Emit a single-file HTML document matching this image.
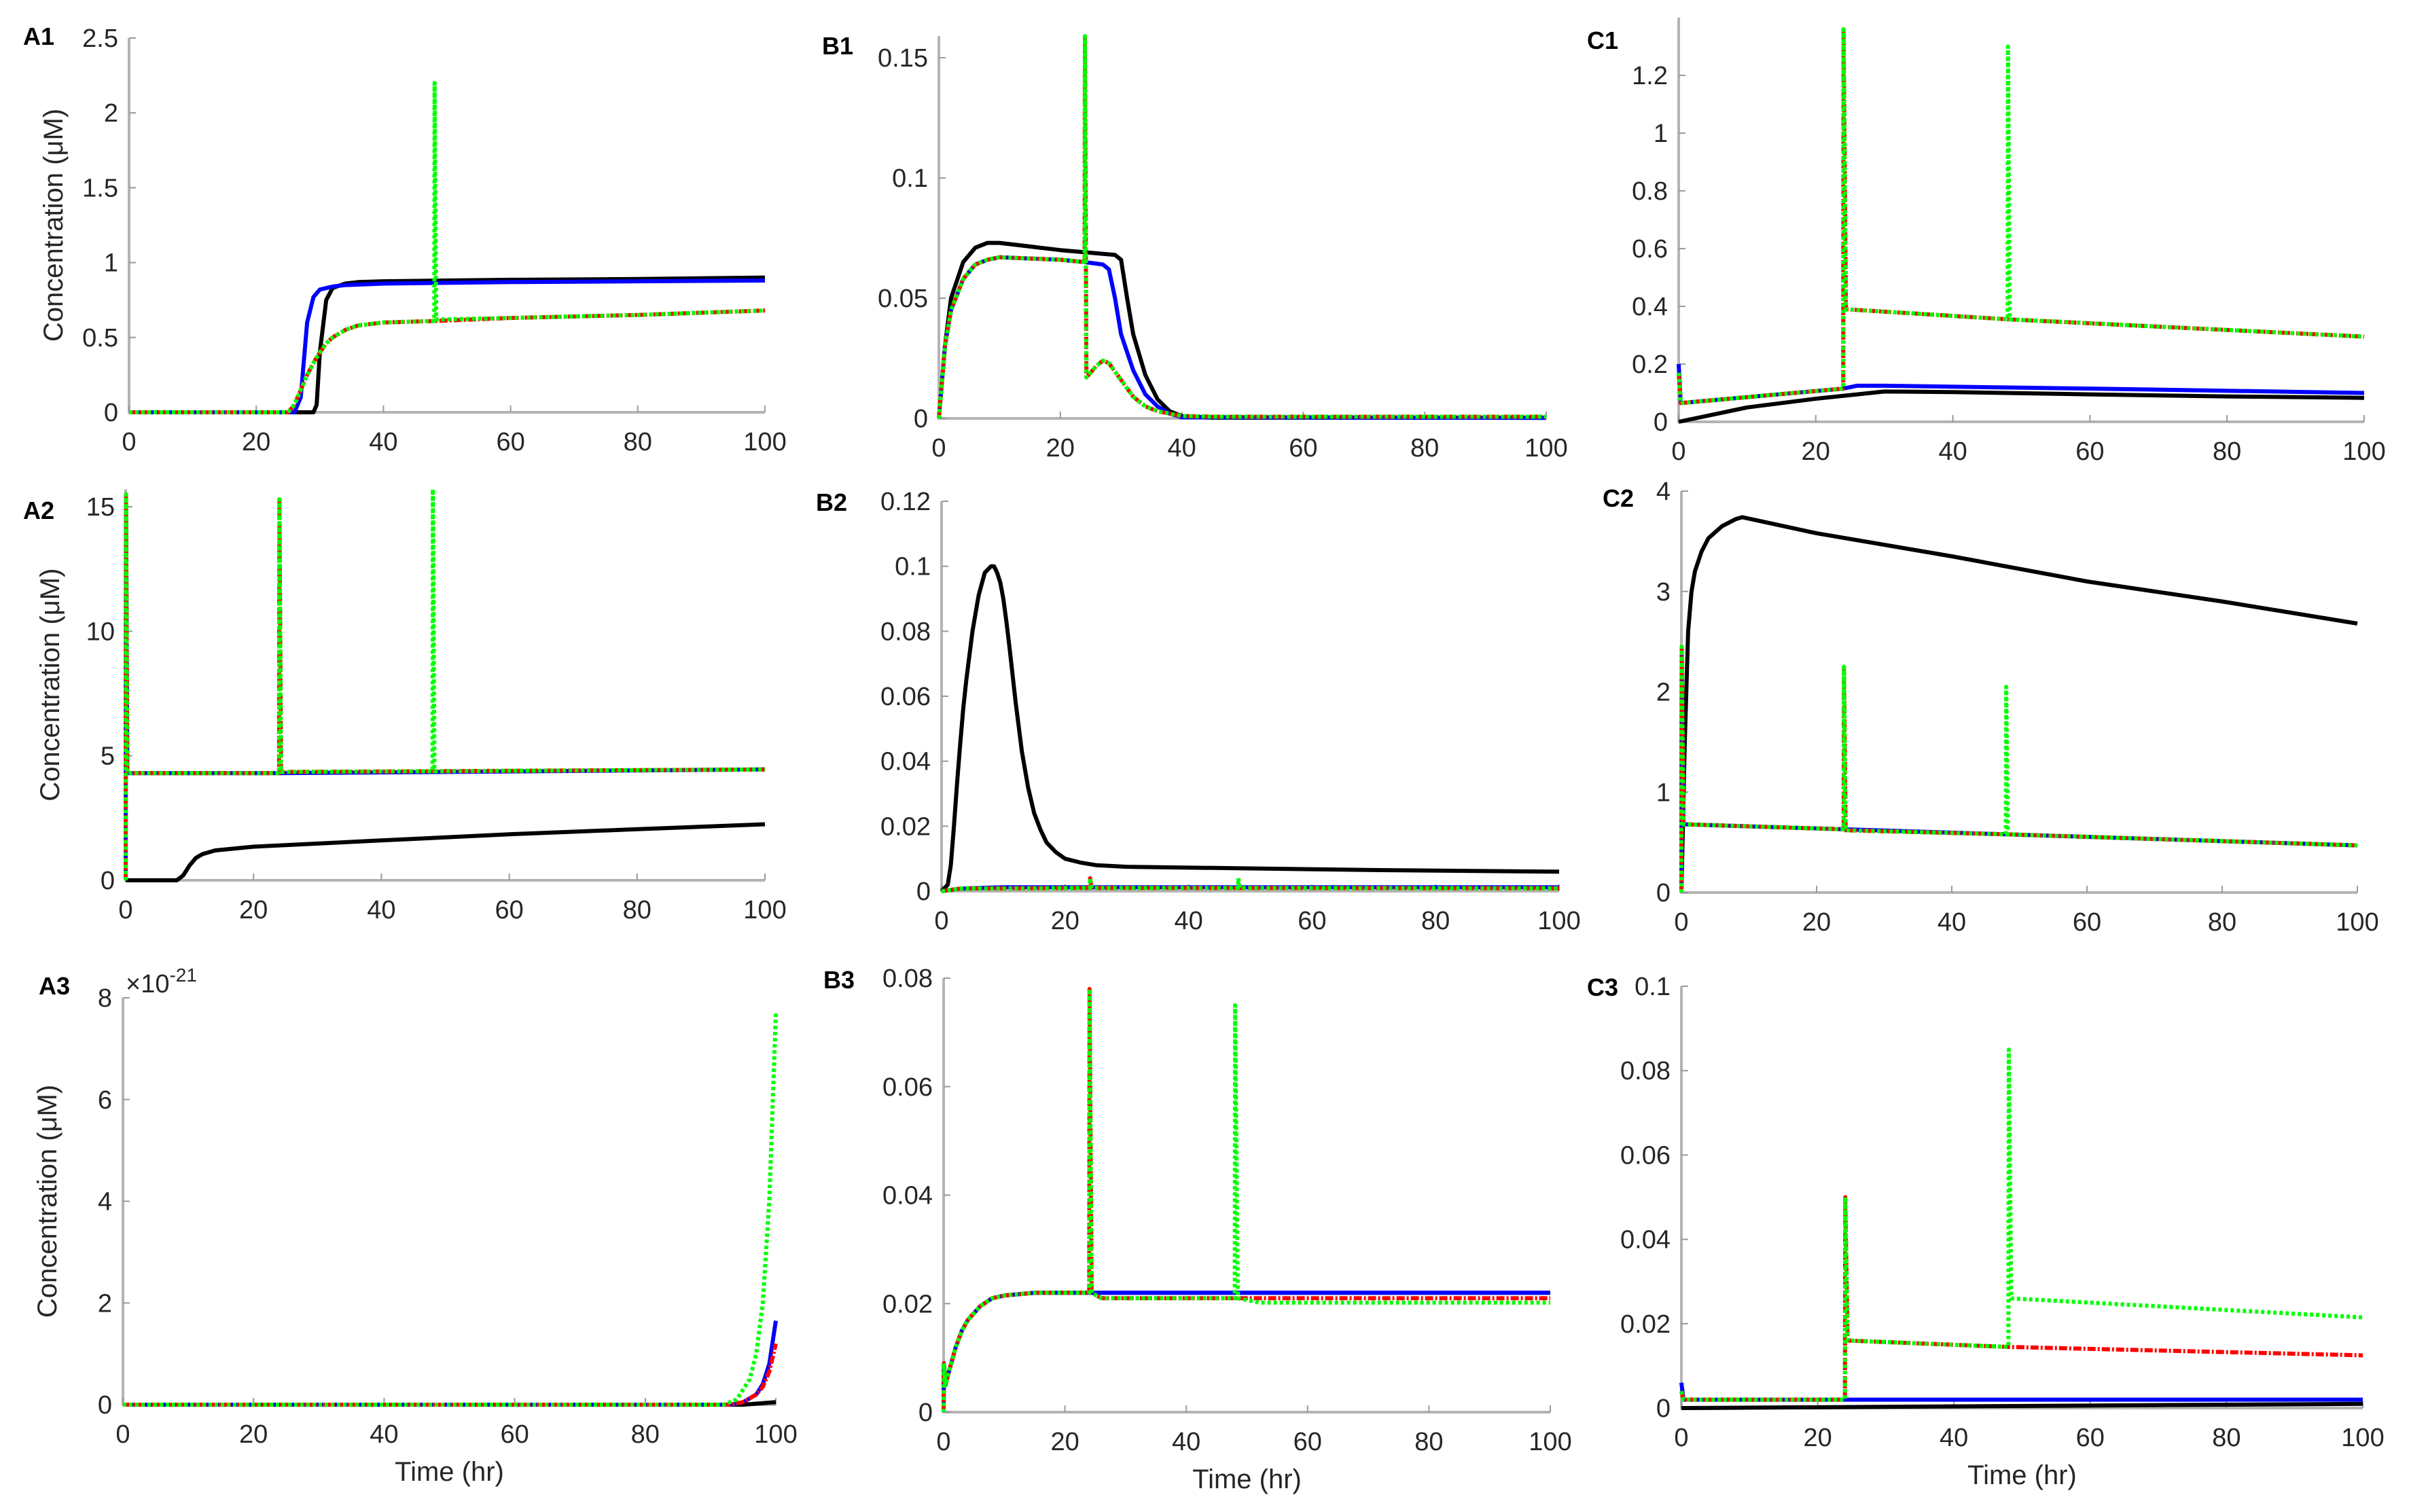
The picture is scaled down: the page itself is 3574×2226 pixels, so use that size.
<!DOCTYPE html>
<html><head><meta charset="utf-8"><style>
html,body{margin:0;padding:0;background:#fff;}
svg{display:block;font-family:"Liberation Sans",sans-serif;}
</style></head><body>
<svg id="fig" width="3574" height="2226" viewBox="0 0 3574 2226" xmlns="http://www.w3.org/2000/svg"></svg>
<script>
// ---------- DATA (time hr, concentration) ----------
const a1Black=[[0,0],[29,0],[29.5,0.05],[30,0.4],[31,0.75],[32,0.83],[34,0.86],[36,0.87],[40,0.875],[60,0.885],[80,0.89],[100,0.9]];
const a1Blue=[[0,0],[26,0],[27,0.1],[28,0.6],[29,0.77],[30,0.82],[32,0.84],[34,0.85],[40,0.86],[60,0.87],[100,0.88]];
const a1Red=[[0,0],[25,0],[26,0.05],[27,0.15],[28,0.25],[29,0.33],[30,0.4],[31,0.46],[32,0.5],[34,0.55],[36,0.58],[40,0.6],[48,0.61],[60,0.63],[80,0.65],[100,0.68]];
const a1Green=[[0,0],[25,0],[26,0.05],[27,0.15],[28,0.25],[29,0.33],[30,0.4],[31,0.46],[32,0.5],[34,0.55],[36,0.58],[40,0.6],[48,0.61],[48.05,2.2],[48.3,0.62],[60,0.63],[80,0.65],[100,0.68]];

const b1Black=[[0,0],[1,0.03],[2,0.05],[4,0.065],[6,0.071],[8,0.073],[10,0.073],[20,0.07],[29,0.068],[30,0.066],[31,0.05],[32,0.035],[34,0.018],[36,0.008],[38,0.003],[40,0.001],[45,0.0003],[100,0.0003]];
const b1Blue=[[0,0],[1,0.03],[2,0.045],[4,0.058],[6,0.064],[8,0.066],[10,0.067],[20,0.066],[24,0.065],[27,0.064],[28,0.062],[29,0.05],[30,0.035],[32,0.02],[34,0.01],[36,0.005],[38,0.002],[40,0.0005],[100,0.0002]];
const b1Red=[[0,0],[1,0.03],[2,0.045],[4,0.058],[6,0.064],[8,0.066],[10,0.067],[20,0.066],[24,0.065],[24.05,0.159],[24.3,0.017],[26,0.022],[27,0.024],[28,0.023],[30,0.016],[32,0.009],[34,0.005],[36,0.003],[40,0.001],[45,0.0007],[100,0.0007]];
const b1Green=[[0,0],[1,0.03],[2,0.045],[4,0.058],[6,0.064],[8,0.066],[10,0.067],[20,0.066],[24,0.065],[24.05,0.159],[24.3,0.017],[26,0.022],[27,0.024],[28,0.023],[30,0.016],[32,0.009],[34,0.005],[36,0.003],[40,0.001],[45,0.0007],[100,0.0007]];

const c1Black=[[0,0],[10,0.05],[20,0.08],[30,0.105],[40,0.103],[60,0.095],[80,0.088],[100,0.083]];
const c1Blue=[[0,0.2],[0.3,0.065],[24,0.115],[26,0.125],[30,0.125],[60,0.115],[100,0.1]];
const c1Red=[[0,0.17],[0.3,0.065],[24,0.115],[24.05,1.36],[24.4,0.39],[48,0.355],[100,0.295]];
const c1Green=[[0,0.17],[0.3,0.065],[24,0.115],[24.05,1.36],[24.4,0.39],[48,0.355],[48.05,1.3],[48.3,0.355],[100,0.295]];

const a2Black=[[0,0],[8,0],[9,0.2],[10,0.6],[11,0.9],[12,1.05],[14,1.2],[20,1.35],[40,1.6],[60,1.85],[80,2.05],[100,2.25]];
const a2Blue=[[0,0],[0.05,15.5],[0.25,4.3],[24,4.3],[100,4.45]];
const a2Red=[[0,0],[0.05,15.5],[0.25,4.3],[24,4.3],[24.05,15.3],[24.3,4.35],[100,4.45]];
const a2Green=[[0,0],[0.05,15.5],[0.25,4.3],[24,4.3],[24.05,15.3],[24.3,4.35],[48,4.38],[48.05,15.7],[48.3,4.38],[100,4.45]];

const b2Black=[[0,0],[1,0.002],[1.5,0.008],[2,0.02],[2.5,0.033],[3,0.045],[3.5,0.056],[4,0.065],[5,0.08],[6,0.091],[7,0.098],[8,0.1],[8.5,0.1],[9,0.098],[9.5,0.095],[10,0.09],[10.5,0.083],[11,0.075],[12,0.058],[13,0.043],[14,0.032],[15,0.024],[16,0.019],[17,0.015],[18.5,0.012],[20,0.01],[22.5,0.0088],[25,0.008],[30,0.0075],[50,0.007],[70,0.0065],[100,0.006]];
const b2Blue=[[0,0],[3,0.0008],[10,0.0012],[100,0.0012]];
const b2Red=[[0,0],[3,0.0008],[24,0.001],[24.05,0.004],[24.3,0.001],[100,0.0009]];
const b2Green=[[0,0],[3,0.0008],[24,0.001],[24.05,0.004],[24.3,0.001],[48,0.001],[48.05,0.004],[48.3,0.001],[100,0.0009]];

const c2Black=[[0,0],[0.5,1.5],[1,2.6],[1.5,3.0],[2,3.2],[3,3.4],[4,3.53],[6,3.65],[8,3.72],[9,3.74],[20,3.58],[40,3.35],[60,3.1],[80,2.9],[100,2.68]];
const c2Blue=[[0,0],[0.05,2.4],[0.3,0.68],[24,0.63],[48,0.58],[100,0.47]];
const c2Red=[[0,0],[0.05,2.45],[0.3,0.68],[24,0.63],[24.05,2.25],[24.3,0.62],[48,0.58],[100,0.47]];
const c2Green=[[0,0],[0.05,2.45],[0.3,0.68],[24,0.63],[24.05,2.25],[24.3,0.62],[48,0.58],[48.05,2.05],[48.3,0.58],[100,0.47]];

const a3Black=[[0,0],[95,0],[100,0.05]];
const a3Blue=[[0,0],[93,0],[95,0.05],[97,0.2],[98,0.4],[99,0.8],[100,1.65]];
const a3Red=[[0,0],[93,0],[95,0.05],[97,0.2],[98,0.35],[99,0.65],[100,1.2]];
const a3Green=[[0,0],[92,0],[94,0.1],[96,0.5],[97,1.0],[98,2.0],[99,4.0],[100,7.7]];

const b3Black=[[0,0],[0.05,0.009],[0.3,0.005],[1,0.008],[2,0.012],[3,0.015],[4,0.017],[6,0.0195],[8,0.021],[10,0.0215],[15,0.022],[100,0.022]];
const b3Blue=[[0,0],[0.05,0.009],[0.3,0.005],[1,0.008],[2,0.012],[3,0.015],[4,0.017],[6,0.0195],[8,0.021],[10,0.0215],[15,0.022],[100,0.022]];
const b3Red=[[0,0],[0.05,0.009],[0.3,0.005],[1,0.008],[2,0.012],[3,0.015],[4,0.017],[6,0.0195],[8,0.021],[10,0.0215],[15,0.022],[24,0.022],[24.05,0.078],[24.4,0.022],[26,0.021],[48,0.021],[100,0.021]];
const b3Green=[[0,0],[0.05,0.009],[0.3,0.005],[1,0.008],[2,0.012],[3,0.015],[4,0.017],[6,0.0195],[8,0.021],[10,0.0215],[15,0.022],[24,0.022],[24.05,0.078],[24.4,0.022],[26,0.021],[48,0.021],[48.05,0.075],[48.5,0.021],[52,0.0202],[100,0.0202]];

const c3Black=[[0,0],[100,0.001]];
const c3Blue=[[0,0.006],[0.3,0.002],[100,0.002]];
const c3Red=[[0,0.004],[0.3,0.002],[24,0.002],[24.05,0.05],[24.4,0.016],[48,0.0145],[100,0.0125]];
const c3Green=[[0,0.004],[0.3,0.002],[24,0.002],[24.05,0.05],[24.4,0.016],[48,0.0145],[48.05,0.085],[48.4,0.026],[100,0.0215]];

const xTicks=[0,20,40,60,80,100];
const a1YTicks=[0,0.5,1,1.5,2,2.5];
const b1YTicks=[0,0.05,0.1,0.15];
const c1YTicks=[0,0.2,0.4,0.6,0.8,1,1.2];
const a2YTicks=[0,5,10,15];
const b2YTicks=[0,0.02,0.04,0.06,0.08,0.1,0.12];
const c2YTicks=[0,1,2,3,4];
const a3YTicks=[0,2,4,6,8];
const b3YTicks=[0,0.02,0.04,0.06,0.08];
const c3YTicks=[0,0.02,0.04,0.06,0.08,0.1];

// ---------- LAYOUT ----------
const panels=[
 {id:'a1',label:'A1',x0:190,x1:1126,y0:607,yT:56,yTv:2.5,yMax:2.5,ticks:a1YTicks,s:[a1Black,a1Blue,a1Red,a1Green],lab:[34,66],ylab:true},
 {id:'b1',label:'B1',x0:1382,x1:2276,y0:616,yT:85,yTv:0.15,yMax:0.159,ticks:b1YTicks,s:[b1Black,b1Blue,b1Red,b1Green],lab:[1210,80]},
 {id:'c1',label:'C1',x0:2471,x1:3480,y0:621,yT:111,yTv:1.2,yMax:1.4,ticks:c1YTicks,s:[c1Black,c1Blue,c1Red,c1Green],lab:[2336,72]},
 {id:'a2',label:'A2',x0:185,x1:1126,y0:1296,yT:746,yTv:15,yMax:15.7,ticks:a2YTicks,s:[a2Black,a2Blue,a2Red,a2Green],lab:[34,764],ylab:true},
 {id:'b2',label:'B2',x0:1386,x1:2295,y0:1312,yT:738,yTv:0.12,yMax:0.12,ticks:b2YTicks,s:[b2Black,b2Blue,b2Red,b2Green],lab:[1201,752]},
 {id:'c2',label:'C2',x0:2475,x1:3470,y0:1314,yT:723,yTv:4,yMax:4,ticks:c2YTicks,s:[c2Black,c2Blue,c2Red,c2Green],lab:[2359,746]},
 {id:'a3',label:'A3',x0:181,x1:1142,y0:2068,yT:1469,yTv:8,yMax:8,ticks:a3YTicks,s:[a3Black,a3Blue,a3Red,a3Green],lab:[57,1464],ylab:true,time:true,exp:true},
 {id:'b3',label:'B3',x0:1389,x1:2282,y0:2079,yT:1440,yTv:0.08,yMax:0.08,ticks:b3YTicks,s:[b3Black,b3Blue,b3Red,b3Green],lab:[1212,1455],time:true},
 {id:'c3',label:'C3',x0:2475,x1:3478,y0:2073,yT:1452,yTv:0.1,yMax:0.1,ticks:c3YTicks,s:[c3Black,c3Blue,c3Red,c3Green],lab:[2336,1466],time:true}
];
const styles=[
 {c:'#000000',d:'',n:'black'},
 {c:'#0000ff',d:'',n:'blue'},
 {c:'#ff0000',d:'12 3 3 3',n:'red'},
 {c:'#00ff00',d:'5 4',n:'green'}
];
const NS='http://www.w3.org/2000/svg';
const svg=document.getElementById('fig');
function mk(tag,attrs,parent){const e=document.createElementNS(NS,tag);for(const k in attrs)e.setAttribute(k,attrs[k]);(parent||svg).appendChild(e);return e;}

panels.forEach(p=>{
  const g=mk('g',{});
  
  
  const xs=t=>p.x0+(p.x1-p.x0)*t/100;
  const ys=v=>p.y0-(p.y0-p.yT)*v/p.yTv;
  const yTop=ys(p.yMax);
  const ax=mk('path',{d:`M${p.x0},${yTop} L${p.x0},${p.y0} L${p.x1},${p.y0}`,fill:'none',stroke:'#b4b4b4','stroke-width':4},g);
  
  
  xTicks.forEach(t=>{
    mk('line',{x1:xs(t),x2:xs(t),y1:p.y0,y2:p.y0-10,stroke:'#9a9a9a','stroke-width':2},g);
    const tx=mk('text',{x:xs(t),y:p.y0+56,'font-size':38,'text-anchor':'middle',fill:'#262626'},g);
    tx.textContent=t;
    
    
  });
  p.ticks.forEach(v=>{
    mk('line',{x1:p.x0,x2:p.x0+10,y1:ys(v),y2:ys(v),stroke:'#9a9a9a','stroke-width':2},g);
    const tx=mk('text',{x:p.x0-16,y:ys(v)+13,'font-size':38,'text-anchor':'end',fill:'#262626'},g);
    tx.textContent=String(v);
    
    
  });
  p.s.forEach((pts,i)=>{
    const st=styles[i];
    const d=pts.map((q,j)=>(j?'L':'M')+xs(q[0]).toFixed(1)+','+ys(q[1]).toFixed(1)).join(' ');
    const a={d:d,fill:'none',stroke:st.c,'stroke-width':6,'stroke-linejoin':'round'};
    if(st.d)a['stroke-dasharray']=st.d;
    const ln=mk('path',a,g);
    
    
  });
  const lb=mk('text',{x:p.lab[0],y:p.lab[1],'font-size':36,'font-weight':'bold',fill:'#000'},g);
  lb.textContent=p.label;
  
  
  if(p.ylab){
    const cy=(p.y0+yTop)/2, cx=p.x0-98;
    const yl=mk('text',{x:cx,y:cy,'font-size':40,'text-anchor':'middle',fill:'#262626',transform:`rotate(-90 ${cx} ${cy})`},g);
    yl.textContent='Concentration (\u03BCM)';
    
    
  }
  if(p.time){
    const tl=mk('text',{x:(p.x0+p.x1)/2,y:p.y0+112,'font-size':40,'text-anchor':'middle',fill:'#262626'},g);
    tl.textContent='Time (hr)';
    
    
  }
  if(p.exp){
    const ex=mk('text',{x:p.x0+4,y:yTop-8,'font-size':38,fill:'#262626'},g);
    ex.innerHTML='\u00D710<tspan dy="-16" font-size="28">-21</tspan>';
    
    
  }
});
</script>
</body></html>
